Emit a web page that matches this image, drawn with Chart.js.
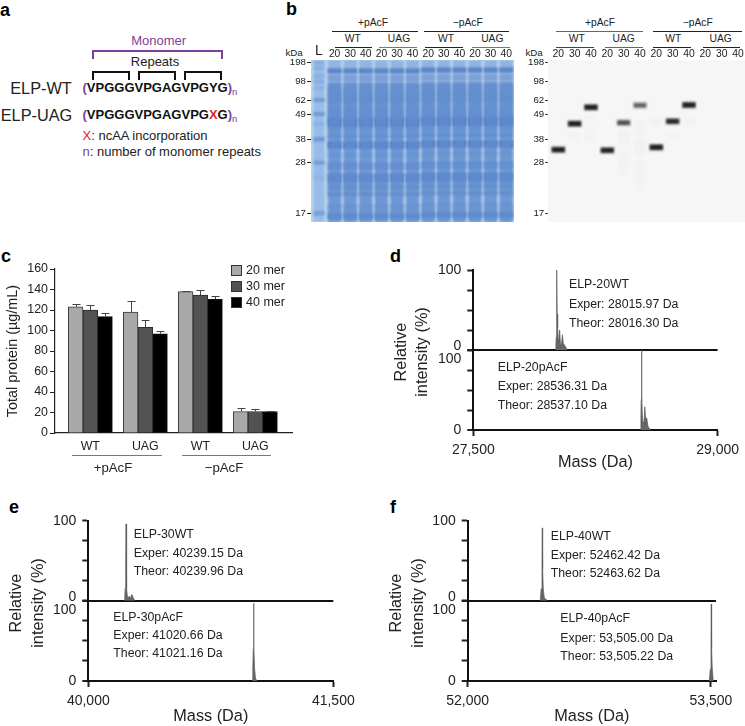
<!DOCTYPE html>
<html><head><meta charset="utf-8">
<style>
html,body{margin:0;padding:0;background:#fff;overflow:hidden}
#stage{position:relative;width:745px;height:726px;overflow:hidden;font-family:"Liberation Sans",Arial,sans-serif;color:#222}
canvas{position:absolute;left:0;top:0}
.t{position:absolute;white-space:nowrap;line-height:1}
.d{position:absolute}
</style>
<script src="https://cdn.jsdelivr.net/npm/chart.js@4"></script>
</head><body><div id="stage"></div>
<script>
// ---- panel c data ----
const groupLabels = ['WT','UAG','WT','UAG'];
const mer20 = [123,118,138,21];
const mer30 = [120,103,134.5,21];
const mer40 = [113.6,96.8,130.5,21];
const mer20Top = [125.6,128.5,139,24.7];
const mer30Top = [124.4,110,140,23.4];
const mer40Top = [117,99.4,134,21.8];
const merTicks = [0,20,40,60,80,100,120,140,160];

// ---- panel b data ----
const kdaLabels = ['198','98','62','49','38','28','17'];
const kdaMigration = [2.7,21.7,40,54,79.3,102.7,153.3];
const laneLabels = ['L','20','30','40','20','30','40','20','30','40','20','30','40'];
const blotLaneLabels = ['20','30','40','20','30','40','20','30','40','20','30','40'];
const laneShift = [0,0,0,0,0,0,0,-1,-1,-1,-1,-1,-1];
const bandCenter = [11,17,20,26,32,38,43,50,57,63,70,76,85,95,106,118,127,134,146,150,156];
const bandHalf =   [2.2,.9,.9,2.5,3.2,3,2.5,3.5,3,4,2.2,2,3.6,2.5,3.6,4.5,2.6,2,1.2,1,3];
const bandDark =   [.85,.45,.45,.48,.55,.58,.48,.55,.6,.9,.35,.52,.9,.22,.55,.8,.5,.55,.38,.32,.75];
const ladderCenter = [2.7,8,16,21.7,28,40,54,64,79.3,102.7,118,153.3];
const ladderHalf =   [.9,1.2,1.2,1.2,1.5,1.3,1.7,1.5,2,1.6,2,1.8];
const ladderDark =   [.4,.3,.3,.35,.2,.75,.7,.25,.7,.65,.15,.6];
const blotLane = [0,1,2,3,4,5,6,7,8];
const blotCenter = [89.7,63.7,47.3,90.3,62.7,45.3,87.3,61.3,45];
const blotDark = [.95,.95,.95,.92,.6,.5,.97,.85,.95];
const faintLane = [1,2,2,4,4,5,5,5,6,7,8];
const faintFrom = [72,55,68,70,92,62,80,100,58,72,56];
const faintTo =   [80,62,82,85,115,75,95,130,66,80,66];
const faintDark = [.01,.012,.01,.015,.01,.015,.018,.01,.015,.01,.01];

// ---- spectra data (mass, relative intensity) ----
const d20WT = [[28006,0],[28009,16],[28011,38],[28013,100],[28015,45],[28018,28],[28022,12],[28025,10],[28030,25],[28035,8],[28041,6],[28047,19],[28053,8],[28061,6],[28067,4],[28075,0]];
const d20pAcF = [[28526,0],[28529,16],[28531,38],[28533,100],[28535,45],[28538,18],[28542,10],[28548,8],[28553,29],[28558,15],[28565,15],[28572,5],[28577,3],[28591,0]];
const e30WT = [[40222,0],[40226,16],[40229,40],[40231,96],[40233,45],[40236,16],[40239,6],[40245,4],[40251,6],[40258,3],[40267,8],[40275,4],[40285,0]];
const e30pAcF = [[41003,0],[41007,16],[41010,40],[41012,97],[41014,45],[41018,16],[41024,3],[41034,0]];
const f40WT = [[52447,0],[52453,15],[52458,40],[52460,91],[52462,40],[52466,15],[52473,3],[52483,2],[52491,0]];
const f40pAcF = [[53489,0],[53496,15],[53500,40],[53502,96],[53504,40],[53508,15],[53514,0]];

// ---- page helpers ----
const W=745, H=740, stage=document.getElementById('stage');
const FONT='"Liberation Sans",Arial,sans-serif', INK='#222';
function txt(x,y,s,o={}){
  const e=document.createElement('div');e.className='t';
  e.innerHTML=s;
  e.style.left=x+'px';e.style.top=y+'px';
  e.style.fontSize=(o.size||12.3)+'px';
  if(o.bold)e.style.fontWeight='bold';
  if(o.color)e.style.color=o.color;
  const ax=o.align==='left'?'0':'-50%';
  e.style.transform='translate('+ax+',-50%)'+(o.rot?' rotate(-90deg)':'');
  stage.appendChild(e);return e;
}
function rule(x1,x2,y,c,lw){
  const e=document.createElement('div');e.className='d';
  e.style.cssText+='left:'+x1+'px;width:'+(x2-x1)+'px;top:'+(y-(lw||1)/2)+'px;height:'+(lw||1)+'px;background:'+c;
  stage.appendChild(e);
}
function bracket(x1,x2,y,h,c){
  const e=document.createElement('div');e.className='d';
  e.style.cssText+='left:'+x1+'px;width:'+(x2-x1-4)+'px;top:'+y+'px;height:'+h+'px;border:2px solid '+c+';border-bottom:none';
  stage.appendChild(e);
}
function newCanvas(){const c=document.createElement('canvas');c.width=W;c.height=H;c.style.width=W+'px';c.style.height=H+'px';stage.appendChild(c);return c;}
const box=(l,t,r,b,yw,xh)=>({left:l-yw,top:t,right:W-r,bottom:H-b-xh});
const fix=n=>s=>{if(s.isHorizontal())s.height=n;else s.width=n;};

Chart.register({
  id:'gel',
  beforeDatasetsDraw(ch,a,o){if(o.bg){const r=ch.chartArea;ch.ctx.save();ch.ctx.fillStyle=o.bg;ch.ctx.fillRect(r.left,r.top,r.right-r.left,r.bottom-r.top);ch.ctx.restore();}},
  beforeDatasetDraw(ch,a,o){if(o.blur){ch.ctx.save();ch.ctx.filter='blur('+o.blur+'px)';}},
  afterDatasetDraw(ch,a,o){if(o.blur){ch.ctx.restore();}}
});
Chart.register({
  id:'tickShift',
  beforeDraw(ch,a,o){
    if(!o.shift)return;
    for(const id in o.shift){
      const sc=ch.scales[id];
      sc.getLabelItems().forEach(it=>{
        if(o.shift[id][it.label]!==undefined&&!it._moved){it.options.translation[1]+=o.shift[id][it.label];it._moved=true;}
      });
    }
  }
});
Chart.register({
  id:'errs',
  afterDatasetsDraw(ch,a,o){
    if(!o.tops)return;
    const c=ch.ctx,y=ch.scales.y;c.save();c.strokeStyle='#444';c.lineWidth=1;
    o.tops.forEach((arr,ds)=>{
      ch.getDatasetMeta(ds).data.forEach((bar,i)=>{
        const py=Math.round(y.getPixelForValue(arr[i]))+.5,x=Math.round(bar.x)+.5;
        c.beginPath();c.moveTo(x,bar.y);c.lineTo(x,py);c.moveTo(x-4,py);c.lineTo(x+4,py);c.stroke();
      });
    });
    c.restore();
  }
});
Chart.defaults.font.family=FONT;
Chart.defaults.color=INK;
Chart.defaults.animation=false;
Chart.defaults.responsive=false;
Chart.defaults.plugins.legend.display=false;
Chart.defaults.plugins.tooltip.enabled=false;

// ---- panel letters ----
[[0,10,'a'],[286,9,'b'],[1,256,'c'],[390,256,'d'],[9,507,'e'],[390,507,'f']].forEach(p=>txt(p[0],p[1],p[2],{size:18,bold:true,align:'left',color:'#000'}));

// ---- panel a ----
const PUR='#7d3f98',RED='#e2202c';
txt(158.7,40,'Monomer',{size:13,color:PUR});
bracket(92,222.5,50,7,PUR);
txt(155,60.5,'Repeats',{size:13});
bracket(92,130,70.5,7.5,'#111');bracket(138,176,70.5,7.5,'#111');bracket(184.3,222.5,70.5,7.5,'#111');
txt(41,88,'ELP-WT',{size:16.3});
txt(36.5,115,'ELP-UAG',{size:16.3});
const pur=s=>'<span style="color:'+PUR+'">'+s+'</span>';
txt(82.5,89,pur('(')+'VPGGGVPGAGVPGYG'+pur(')')+'<sub style="font-size:9.5px;font-weight:normal;color:'+PUR+';vertical-align:-3px">n</sub>',{size:13,bold:true,align:'left',color:'#111'});
txt(82.5,116,pur('(')+'VPGGGVPGAGVPG<span style="color:'+RED+'">X</span>G'+pur(')')+'<sub style="font-size:9.5px;font-weight:normal;color:'+PUR+';vertical-align:-3px">n</sub>',{size:13,bold:true,align:'left',color:'#111'});
txt(82.5,135,'<span style="color:'+RED+'">X</span>: ncAA incorporation',{size:13,align:'left'});
txt(82.5,151,pur('n')+': number of monomer repeats',{size:13,align:'left'});

// ---- panel b headers ----
function gelHead(h){
  h.top.forEach(t=>{txt(t[0],22.7,t[1],{size:10.3});});
  h.topRules.forEach(r=>rule(r[0],r[1],31,r[2],1));
  h.sub.forEach(t=>txt(t[0],38.7,t[1],{size:10.3}));
  h.subRules.forEach(r=>rule(r[0],r[1],47.3,r[2],1));
  txt(h.kda,52.5,'kDa',{size:9.7});
}
gelHead({top:[[373,'+pAcF'],[467.7,'−pAcF']],topRules:[[332.3,418.3,'#222'],[424.3,509,'#222']],
  sub:[[352.7,'WT'],[399,'UAG'],[446,'WT'],[492.3,'UAG']],
  subRules:[[335,371.7,'#222'],[379.3,417,'#777'],[425.3,463.3,'#222'],[472.3,509.7,'#777']],kda:294});
gelHead({top:[[600,'+pAcF'],[697.7,'−pAcF']],topRules:[[556.3,643,'#666'],[652.7,741.7,'#222']],
  sub:[[576.7,'WT'],[623.7,'UAG'],[673.3,'WT'],[720.7,'UAG']],
  subRules:[[555.7,594.3,'#444'],[605,642.7,'#666'],[653,691,'#222'],[703.3,740.3,'#222']],kda:534});

function gelScales(minX,maxX,lanes,labels,fontFor,tickLen,pad){
  return {
    x:{type:'linear',position:'top',min:minX,max:maxX,stacked:true,offset:false,
      afterBuildTicks:s=>{s.ticks=lanes.map(v=>({value:v}));},
      afterFit:fix(20),border:{display:false},grid:{display:false,drawTicks:false},
      ticks:{autoSkip:false,maxRotation:0,padding:0,color:INK,font:fontFor,callback:v=>labels[lanes.indexOf(v)]}},
    y:{type:'linear',reverse:true,min:0,max:162,stacked:false,
      afterBuildTicks:s=>{s.ticks=kdaMigration.map(v=>({value:v}));},
      afterFit:fix(30),border:{display:false},
      grid:{drawOnChartArea:false,tickLength:tickLen,tickColor:'#222',tickWidth:1},
      ticks:{autoSkip:false,padding:pad,color:INK,font:{size:9.7},callback:v=>kdaLabels[kdaMigration.indexOf(v)]}}
  };
}
// Coomassie gel
(function(){
  const laneIdx=laneLabels.map((_,i)=>i);
  const lanes=laneIdx.slice(1);
  const base=lanes.map(i=>({x:i,y:[0,162]}));
  const body=lanes.map(i=>({x:i,y:[23,162]}));
  const pts=[],cols=[];
  lanes.forEach(i=>bandCenter.forEach((c,b)=>{
    const m=c+laneShift[i];
    pts.push({x:i,y:[m-bandHalf[b],m+bandHalf[b]]});
    cols.push('rgba(38,88,172,'+bandDark[b]+')');
  }));
  const lad=ladderCenter.map((c,b)=>({x:0,y:[c-ladderHalf[b],c+ladderHalf[b]]}));
  const ladC=ladderDark.map(a=>'rgba(50,105,185,'+a+')');
  new Chart(newCanvas(),{type:'bar',data:{datasets:[
    {data:base,backgroundColor:'rgba(115,155,215,.55)',barThickness:12.6,borderWidth:0,inflateAmount:0},
    {data:body,backgroundColor:'rgba(75,125,198,.72)',barThickness:12.2,borderWidth:0,inflateAmount:0},
    {data:[{x:0,y:[0,162]}],backgroundColor:'rgba(125,170,225,.55)',barThickness:10.5,borderWidth:0,inflateAmount:0},
    {data:lad,backgroundColor:ladC,barThickness:10,borderWidth:0},
    {data:pts,backgroundColor:cols,barThickness:12.8,borderWidth:0}
  ]},options:{
    layout:{padding:box(311,40,514,222,30,0)},
    scales:gelScales(-0.513,12.5,laneIdx,laneLabels,c=>c.index===0?{size:14}:{size:10.3},4,1),
    plugins:{gel:{bg:'#b8d2ee',blur:.9}}
  }});
})();
// Western blot
(function(){
  const lanes=blotLaneLabels.map((_,i)=>i);
  const pts=blotCenter.map((c,i)=>({x:blotLane[i],y:[c-2.8,c+2.8]}));
  const core=blotCenter.map((c,i)=>({x:blotLane[i],y:[c-1.2,c+1.2]}));
  const faint=faintFrom.map((f,i)=>({x:faintLane[i],y:[f,faintTo[i]]}));
  new Chart(newCanvas(),{type:'bar',data:{datasets:[
    {data:faint,backgroundColor:faintDark.map(a=>'rgba(0,0,0,'+a+')'),barThickness:11,borderWidth:0},
    {data:pts,backgroundColor:blotDark.map(a=>'rgba(20,20,20,'+(a*.7)+')'),barThickness:13,borderWidth:0},
    {data:core,backgroundColor:blotDark.map(a=>'rgba(0,0,0,'+a+')'),barThickness:11,borderWidth:0}
  ]},options:{
    layout:{padding:box(547.7,40,745,222,30,0)},
    scales:gelScales(-0.65,11.43,lanes,blotLaneLabels,()=>({size:10.3}),2.5,1),
    plugins:{gel:{bg:'#f6f6f6',blur:1.1}}
  }});
})();

// ---- panel c ----
new Chart(newCanvas(),{type:'bar',data:{datasets:[
  {label:'20 mer',data:mer20.map((v,i)=>({x:i,y:v})),backgroundColor:'#a9a9a9',borderColor:'#3a3a3a',borderWidth:1,barThickness:14.7},
  {label:'30 mer',data:mer30.map((v,i)=>({x:i,y:v})),backgroundColor:'#525252',borderColor:'#2c2c2c',borderWidth:1,barThickness:14.7},
  {label:'40 mer',data:mer40.map((v,i)=>({x:i,y:v})),backgroundColor:'#000',borderColor:'#111',borderWidth:1,barThickness:14.7}
]},options:{
  layout:{padding:box(55,269,292,433,55,25)},
  scales:{
    x:{type:'linear',offset:false,min:-0.642,max:3.667,afterFit:fix(25),
      afterBuildTicks:s=>{s.ticks=groupLabels.map((_,i)=>({value:i}));},
      border:{color:'#222',width:1.2},grid:{display:false,drawTicks:false},
      ticks:{autoSkip:false,maxRotation:0,padding:6,color:INK,font:{size:12.4},callback:v=>groupLabels[v]}},
    y:{min:0,max:160,afterFit:fix(55),
      afterBuildTicks:s=>{s.ticks=merTicks.map(v=>({value:v}));},
      border:{color:'#222',width:1.2},grid:{drawOnChartArea:false,tickLength:5,tickColor:'#222'},
      title:{display:true,text:'Total protein (µg/mL)',font:{size:14.4},color:INK,padding:{top:4,bottom:0}},
      ticks:{padding:2,color:INK,font:{size:12.4}}}
  },
  plugins:{errs:{tops:[mer20Top,mer30Top,mer40Top]}}
}});
[[264.5,'#a9a9a9','20 mer'],[280.5,'#525252','30 mer'],[296.5,'#000','40 mer']].forEach(r=>{
  const e=document.createElement('div');e.className='d';
  e.style.cssText+='left:231px;top:'+r[0]+'px;width:9px;height:9px;border:1px solid #333;background:'+r[1];
  stage.appendChild(e);
  txt(246,r[0]+5.5,r[2],{size:12.5,align:'left'});
});
rule(71.7,161.7,455.7,'#777',1.2);rule(182,270.7,455.7,'#777',1.2);
txt(113,467.7,'+pAcF',{size:13.2});txt(224,467.7,'−pAcF',{size:13.2});

// ---- panels d, e, f ----
function spectrum(o){
  const yScale=()=>({type:'linear',min:0,max:100,stack:'s',stackWeight:1,afterFit:fix(50),
    afterBuildTicks:s=>{s.ticks=[0,25,50,75,100].map(v=>({value:v}));},
    border:{color:'#111',width:2},
    grid:{tickLength:6,tickColor:'#222',tickWidth:2,lineWidth:c=>c.tick.value===0?2:1,color:c=>c.tick.value===0?'#111':'rgba(0,0,0,0)'},
    ticks:{autoSkip:false,padding:6,color:INK,font:{size:14},callback:v=>(v===0||v===100)?String(v):''}});
  const line=(pts,id)=>({type:'scatter',showLine:true,data:pts.map(p=>({x:p[0],y:p[1]})),yAxisID:id,xAxisID:'x',
    borderColor:'#5a5a5a',borderWidth:.7,backgroundColor:'#666',fill:'origin',pointRadius:0,tension:0});
  new Chart(newCanvas(),{type:'scatter',data:{datasets:[line(o.top,'y1'),line(o.bottom,'y2')]},options:{
    layout:{padding:box(o.l,o.t,o.r,o.b,50,o.xh)},
    scales:{
      x:{type:'linear',min:o.min,max:o.max,afterFit:fix(o.xh),
        afterBuildTicks:s=>{s.ticks=o.ticks.map(v=>({value:v}));},
        border:{color:'#111',width:2},grid:{drawOnChartArea:false,tickLength:6,tickColor:'#222',tickWidth:2},
        title:{display:true,text:'Mass (Da)',font:{size:16.3},color:INK,padding:0},
        ticks:{autoSkip:false,maxRotation:0,padding:6,color:INK,font:{size:14},callback:v=>v.toLocaleString('en-US')}},
      y1:Object.assign(yScale(),{weight:o.topWeight}),
      y2:Object.assign(yScale(),{weight:o.bottomWeight})
    },
    plugins:{tickShift:{shift:{y1:{'0':-4},y2:{'100':9}}}}
  }});
  txt(o.relX,o.relY,'Relative',{size:16.3,rot:true});
  txt(o.intX,o.relY,'intensity (%)',{size:16.3,rot:true});
  o.notes.forEach(n=>txt(n[0],n[1],n[2],{size:12.3,align:'left'}));
}
spectrum({l:473.3,t:270,r:718,b:430,xh:42,min:27500,max:29000,ticks:[27500,29000],top:d20WT,bottom:d20pAcF,topWeight:2,bottomWeight:1,
  relX:400,intX:420.7,relY:352,
  notes:[[569,284,'ELP-20WT'],[569,304,'Exper: 28015.97 Da'],[569,323,'Theor: 28016.30 Da'],[497.7,367,'ELP-20pAcF'],[497.7,386,'Exper: 28536.31 Da'],[497.7,404.7,'Theor: 28537.10 Da']]});
spectrum({l:88.3,t:520.7,r:333.3,b:681,xh:45.5,min:40000,max:41500,ticks:[40000,41500],top:e30WT,bottom:e30pAcF,topWeight:2,bottomWeight:1,
  relX:15,intX:36.7,relY:603,
  notes:[[133.7,533.7,'ELP-30WT'],[133.7,552.7,'Exper: 40239.15 Da'],[133.7,571.3,'Theor: 40239.96 Da'],[113.3,617,'ELP-30pAcF'],[113.3,635.3,'Exper: 41020.66 Da'],[113.3,653.3,'Theor: 41021.16 Da']]});
spectrum({l:467.7,t:520.7,r:716,b:681,xh:45.5,min:52000,max:53531,ticks:[52000,53500],top:f40WT,bottom:f40pAcF,topWeight:2,bottomWeight:1,
  relX:395,intX:416.7,relY:603,
  notes:[[550.7,536,'ELP-40WT'],[550.7,554.7,'Exper: 52462.42 Da'],[550.7,572.7,'Theor: 52463.62 Da'],[560.3,617.7,'ELP-40pAcF'],[560.3,637.7,'Exper: 53,505.00 Da'],[560.3,656,'Theor: 53,505.22 Da']]});
</script></body></html>
